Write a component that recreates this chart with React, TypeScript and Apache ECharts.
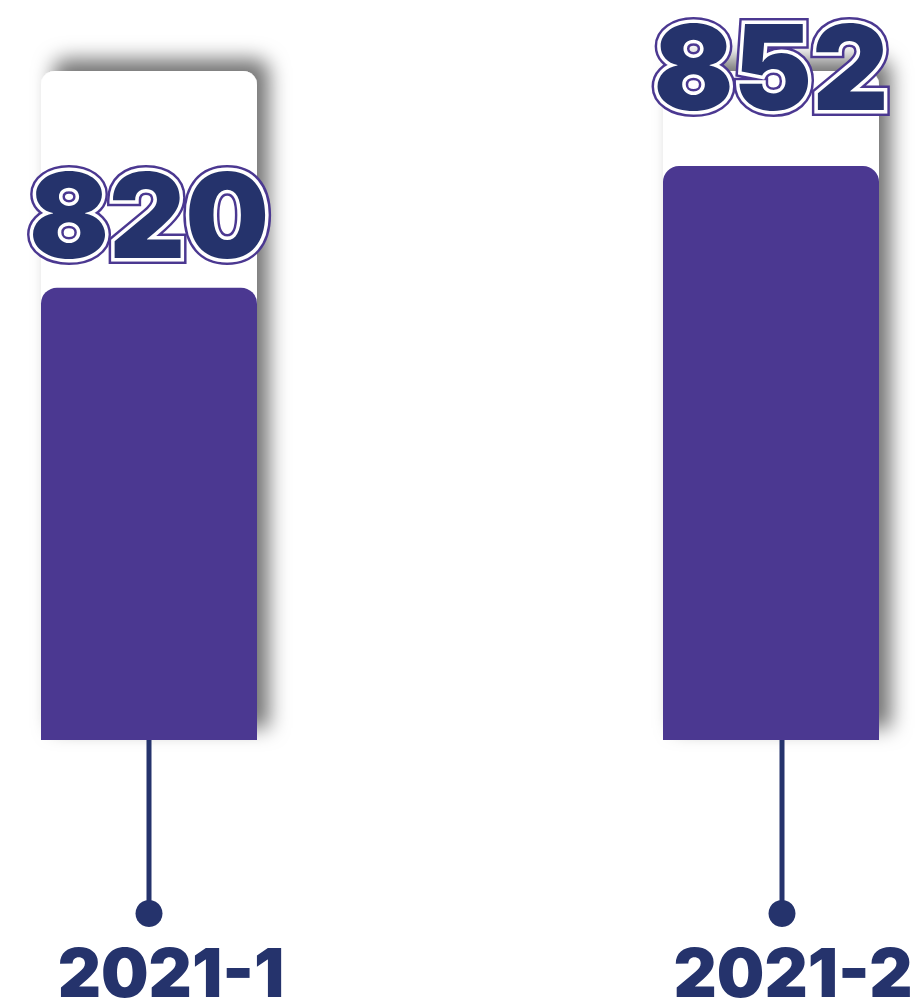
import React, { useEffect, useRef } from "react";
import * as echarts from "echarts";

const categories = ["2021-1", "2021-2"];
const values = [820, 852];
const axisMin = 701;
const axisMax = 877;

const labelDistances = [28, 54];
const stemOffsets = [0, 11];

const NAVY = "#25336C";
const PURPLE = "#4B3891";
const FONT = "Inter";

export default function App() {
  const ref = useRef<HTMLDivElement>(null);
  useEffect(() => {
    document.body.style.margin = "0";
    const chart = echarts.init(ref.current!, null, { renderer: "svg" });
    const mkData = () =>
      values.map((v, i) => ({
        value: v,
        label: { distance: labelDistances[i] },
      }));
    const labelBase = {
      show: true,
      position: "top",
      fontFamily: FONT,
      fontWeight: 900,
      fontSize: 118,
      lineHeight: 90,
      formatter: "{c}",
    };
    chart.setOption({
      animation: false,
      grid: {
        left: -162,
        right: -165,
        top: 71,
        bottom: 260,
        outerBoundsMode: "none",
        containLabel: false,
      },
      xAxis: {
        type: "category",
        data: categories,
        axisLine: { show: false },
        axisTick: { show: false },
        axisLabel: {
          margin: 205,
          padding: [0, 0, 0, 44],
          fontFamily: FONT,
          fontWeight: 900,
          fontSize: 67,
          lineHeight: 54,
          color: NAVY,
        },
      },
      yAxis: {
        type: "value",
        min: axisMin,
        max: axisMax,
        show: false,
        splitLine: { show: false },
      },
      series: [
        {
          type: "bar",
          z: 1,
          barWidth: 216,
          barGap: "-100%",
          data: values,
          itemStyle: { color: "rgba(0,0,0,0)" },
          showBackground: true,
          backgroundStyle: {
            color: "#ffffff",
            borderRadius: [14, 14, 0, 0],
            shadowColor: "rgba(0,0,0,0.55)",
            shadowBlur: 20,
            shadowOffsetX: 12,
            shadowOffsetY: -12,
          },
        },
        {
          type: "bar",
          z: 2,
          barWidth: 216,
          barGap: "-100%",
          data: mkData(),
          itemStyle: { color: "rgba(0,0,0,0)" },
          label: {
            ...labelBase,
            color: PURPLE,
            textBorderColor: PURPLE,
            textBorderWidth: 12,
          },
        },
        {
          type: "bar",
          z: 3,
          barWidth: 216,
          barGap: "-100%",
          data: mkData(),
          itemStyle: { color: PURPLE, borderRadius: [16, 16, 0, 0] },
          label: {
            ...labelBase,
            color: NAVY,
            textBorderColor: "#ffffff",
            textBorderWidth: 7,
          },
        },
        {
          type: "custom",
          z: 4,
          clip: false,
          data: categories.map((_, i) => [i]),
          renderItem: (params: any, api: any) => {
            const idx = api.value(0);
            const p = api.coord([idx, axisMin]);
            const x = p[0] + stemOffsets[idx];
            return {
              type: "group",
              children: [
                {
                  type: "line",
                  shape: { x1: x, y1: p[1], x2: x, y2: p[1] + 168 },
                  style: { stroke: NAVY, lineWidth: 5 },
                },
                {
                  type: "circle",
                  shape: { cx: x, cy: p[1] + 173.5, r: 13.5 },
                  style: { fill: NAVY },
                },
              ],
            };
          },
        },
      ],
    });
    return () => chart.dispose();
  }, []);
  return (
    <div
      ref={ref}
      style={{ width: 917, height: 1000, position: "absolute", left: 0, top: 0 }}
    />
  );
}
